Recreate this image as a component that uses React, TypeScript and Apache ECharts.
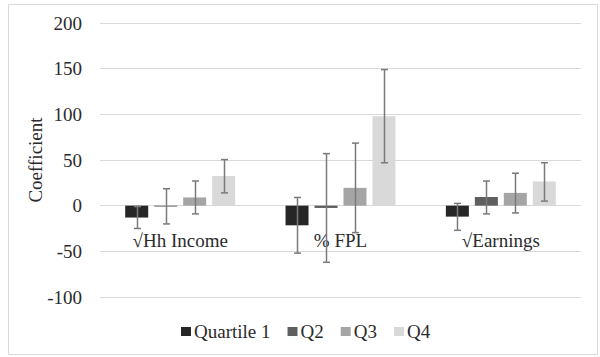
import React, { useEffect, useRef } from "react";
import * as echarts from "echarts";

const categories = ["√Hh Income", "% FPL", "√Earnings"];
const seriesNames = ["Quartile 1", "Q2", "Q3", "Q4"];
const q1Values = [-13, -21.5, -12];
const q2Values = [-1, -2.5, 9.5];
const q3Values = [9, 19.5, 14];
const q4Values = [32.5, 98, 26.5];
const q1Low = [-25, -52, -27];
const q1High = [-1, 9, 2.5];
const q2Low = [-20, -62, -9];
const q2High = [18.5, 57, 27];
const q3Low = [-9, -29.5, -8];
const q3High = [27, 68.5, 35.5];
const q4Low = [14, 47, 5];
const q4High = [50.5, 149, 47];
const yTicks = { min: -100, max: 200, interval: 50 };

const colors = ["#262626", "#5f5f5f", "#a5a5a5", "#d9d9d9"];
const values = [q1Values, q2Values, q3Values, q4Values];
const lows = [q1Low, q2Low, q3Low, q4Low];
const highs = [q1High, q2High, q3High, q4High];

export default function App() {
  const ref = useRef<HTMLDivElement>(null);
  useEffect(() => {
    if (!ref.current) return;
    const chart = echarts.init(ref.current, undefined, { renderer: "svg" });
    const font = "Liberation Serif";
    const fs = 19;
    const textColor = "#2b2b2b";
    const barWidth = 23;
    const step = 29;
    const errData: any[] = [];
    for (let s = 0; s < 4; s++) {
      for (let c = 0; c < categories.length; c++) {
        errData.push([c, lows[s][c], highs[s][c], s]);
      }
    }
    const option: any = {
      animation: false,
      backgroundColor: "#ffffff",
      textStyle: { fontFamily: font },
      graphic: [
        {
          type: "rect",
          shape: { x: 8.5, y: 4.5, width: 589, height: 350 },
          style: { fill: "none", stroke: "#d9d9d9", lineWidth: 1 },
          silent: true,
        },
      ],
      grid: { left: 100, right: 19, top: 23, bottom: 60 },
      legend: {
        data: seriesNames,
        top: 322,
        left: 181,
        icon: "rect",
        itemWidth: 10,
        itemHeight: 9,
        itemGap: 17,
        padding: 0,
        textStyle: { fontFamily: font, fontSize: fs, color: textColor, padding: [0, 0, 0, -2] },
      },
      xAxis: {
        type: "category",
        data: categories,
        axisLine: { onZero: false, show: false },
        axisTick: { show: false },
        axisLabel: { fontFamily: font, fontSize: fs, color: textColor, margin: -66 },
      },
      yAxis: {
        type: "value",
        min: yTicks.min,
        max: yTicks.max,
        interval: yTicks.interval,
        name: "Coefficient",
        nameLocation: "middle",
        nameGap: 55,
        nameMoveOverlap: false,
        nameTextStyle: { fontFamily: font, fontSize: fs, color: textColor },
        axisLine: { show: false },
        axisTick: { show: false },
        axisLabel: { fontFamily: font, fontSize: fs, color: textColor, margin: 18 },
        splitLine: { lineStyle: { color: "#d9d9d9", width: 1 } },
      },
      series: [
        ...seriesNames.map((name, i) => ({
          name,
          type: "bar",
          data: values[i],
          barWidth,
          barGap: "26%",
          itemStyle: { color: colors[i] },
        })),
        {
          type: "custom",
          name: "err",
          z: 10,
          data: errData,
          renderItem: (params: any, api: any) => {
            const c = api.value(0);
            const lo = api.value(1);
            const hi = api.value(2);
            const s = api.value(3);
            const pLo = api.coord([c, lo]);
            const pHi = api.coord([c, hi]);
            const x = Math.round(pLo[0] + (s - 1.5) * step) + 0.5;
            const half = 3.5;
            const style = { stroke: "#7a7a7a", lineWidth: 1.5 };
            return {
              type: "group",
              children: [
                { type: "line", shape: { x1: x, y1: pLo[1], x2: x, y2: pHi[1] }, style },
                { type: "line", shape: { x1: x - half, y1: pLo[1], x2: x + half, y2: pLo[1] }, style },
                { type: "line", shape: { x1: x - half, y1: pHi[1], x2: x + half, y2: pHi[1] }, style },
              ],
            };
          },
        },
      ],
    };
    chart.setOption(option);
    return () => chart.dispose();
  }, []);
  return (
    <div
      ref={ref}
      style={{ position: "absolute", left: 0, top: 0, width: 600, height: 357 }}
    />
  );
}
